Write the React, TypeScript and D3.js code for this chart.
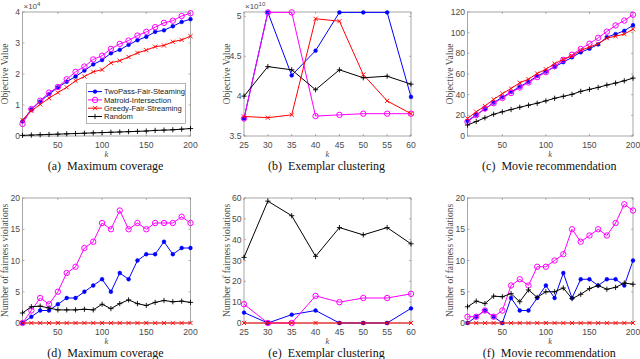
import React from "react";
import * as d3 from "d3";

const kLong = [10, 20, 30, 40, 50, 60, 70, 80, 90, 100, 110, 120, 130, 140, 150, 160, 170, 180, 190, 200];
const kShort = [25, 30, 35, 40, 45, 50, 55, 60];

const seriesNames = ["TwoPass-Fair-Steaming", "Matroid-Intersection", "Greedy-Fair-Streaming", "Random"];
const seriesColors = ["#0000ff", "#ff00ff", "#ff0000", "#000000"];
const seriesMarkers = ["dot", "circle", "x", "plus"];

// (a) Maximum coverage, objective (x1e4)
const aTwoPass = [0.47, 0.86, 1.11, 1.35, 1.57, 1.75, 1.92, 2.11, 2.31, 2.45, 2.67, 2.78, 2.94, 3.09, 3.2, 3.36, 3.41, 3.54, 3.68, 3.77];
const aMatroid = [0.39, 0.87, 1.14, 1.4, 1.58, 1.83, 2.07, 2.24, 2.47, 2.59, 2.81, 2.97, 3.08, 3.24, 3.36, 3.51, 3.65, 3.72, 3.87, 3.96];
const aGreedy = [0.52, 0.81, 1.02, 1.22, 1.4, 1.57, 1.78, 1.92, 2.07, 2.14, 2.36, 2.43, 2.55, 2.68, 2.77, 2.88, 2.92, 3.04, 3.1, 3.22];
const aRandom = [0.02, 0.03, 0.04, 0.05, 0.06, 0.07, 0.08, 0.09, 0.1, 0.11, 0.12, 0.13, 0.14, 0.15, 0.16, 0.18, 0.19, 0.2, 0.22, 0.24];

// (b) Exemplar clustering, objective (x1e10)
const bTwoPass = [3.72, 5.05, 4.26, 4.57, 5.05, 5.05, 5.05, 3.99];
const bMatroid = [3.72, 5.05, 5.05, 3.75, 3.765, 3.78, 3.78, 3.78];
const bGreedy = [3.745, 3.73, 3.765, 4.97, 4.94, 4.27, 3.94, 3.78];
const bRandom = [4.0, 4.37, 4.33, 4.08, 4.33, 4.23, 4.25, 4.15];

// (c) Movie recommendation, objective
const cTwoPass = [14.7, 20.5, 26, 32.3, 37.4, 42.6, 47.7, 52.5, 58, 62.4, 67, 71.4, 76.2, 81, 84.5, 88.6, 95.7, 98.6, 101.8, 107.2];
const cMatroid = [13.8, 20.2, 26.6, 31.7, 36.8, 41.6, 47, 51.8, 57, 61.8, 67.5, 73.6, 78.7, 84.2, 89.3, 95, 101, 107, 111.7, 117.4];
const cGreedy = [17, 23.4, 29, 35.5, 41, 46, 51.5, 55, 60.5, 64.6, 70, 74.2, 77.4, 82.9, 86, 89.3, 94.7, 96.6, 98.6, 103.4];
const cRandom = [10.6, 14, 17.6, 21, 23.4, 25.6, 27.8, 29.8, 31.7, 34, 36.5, 38.4, 40.3, 43.2, 45.1, 47, 49.3, 51.2, 53.4, 56];

// (d) Maximum coverage, violations
const dTwoPass = [0, 1, 2, 2, 3, 4, 4, 5, 6, 7, 5, 8, 7, 10, 11, 11, 13, 11, 12, 12];
const dMatroid = [0, 2, 4, 3, 5, 8, 9, 12, 13, 16, 15, 18, 15, 16, 15, 16, 16, 16, 17, 16];
const dGreedy = [0, 0, 0, 0, 0, 0, 0, 0, 0, 0, 0, 0, 0, 0, 0, 0, 0, 0, 0, 0];
const dRandom = [1.6, 2.6, 2.7, 2.4, 2.1, 2.1, 2.1, 2.2, 2.1, 3.0, 2.3, 3.1, 3.7, 3.1, 2.8, 3.3, 3.6, 3.4, 3.5, 3.3];

// (e) Exemplar clustering, violations
const eTwoPass = [5, 0, 4, 6, 0, 0, 0, 7];
const eMatroid = [9, 0, 0, 13, 10, 12, 12, 14];
const eGreedy = [0, 0, 0, 0, 0, 0, 0, 0];
const eRandom = [31.5, 58.5, 51.5, 32, 45.8, 42.3, 45.8, 38];

// (f) Movie recommendation, violations
const fTwoPass = [0, 1, 2, 1, 0, 4, 2, 2, 4, 6, 4, 8, 4, 7, 7, 6, 7, 7, 6, 10];
const fMatroid = [1, 1, 2, 1, 2, 6, 7, 6, 9, 9, 10, 11, 15, 13, 14, 15, 14, 16, 19, 18];
const fGreedy = [0, 0, 0, 0, 0, 0, 0, 0, 0, 0, 0, 0, 0, 0, 0, 0, 0, 0, 0, 0];
const fRandom = [2.6, 3.5, 3.1, 4.3, 4.2, 4.7, 3.4, 5.3, 4.1, 5.0, 5.0, 5.6, 3.9, 4.6, 5.5, 6.0, 5.4, 5.7, 6.4, 6.2];

const longTicks = [50, 100, 150, 200];
const shortTicks = [25, 30, 35, 40, 45, 50, 55, 60];

type Panel = {
  caption: string;
  ylabel: string;
  xs: number[];
  xDomain: [number, number];
  xTicks: number[];
  yDomain: [number, number];
  yTicks: number[];
  exp?: string;
  series: number[][];
  legend?: boolean;
  left: number;
  right: number;
  top: number;
  bottom: number;
};

const colLR: [number, number][] = [[22.5, 190.5], [244, 411], [467.5, 633]];
const rowTB: [number, number][] = [[12, 136], [198, 323]];

const panels: Panel[] = [
  { caption: "(a)\u00A0\u00A0Maximum coverage", ylabel: "Objective Value", xs: kLong, xDomain: [10, 200], xTicks: longTicks, yDomain: [0, 4], yTicks: [0, 1, 2, 3, 4], exp: "4", series: [aTwoPass, aMatroid, aGreedy, aRandom], legend: true, left: colLR[0][0], right: colLR[0][1], top: rowTB[0][0], bottom: rowTB[0][1] },
  { caption: "(b)\u00A0\u00A0Exemplar clustering", ylabel: "Objective Value", xs: kShort, xDomain: [25, 60], xTicks: shortTicks, yDomain: [3.5, 5.055], yTicks: [3.5, 4, 4.5, 5], exp: "10", series: [bTwoPass, bMatroid, bGreedy, bRandom], left: colLR[1][0], right: colLR[1][1], top: rowTB[0][0], bottom: rowTB[0][1] },
  { caption: "(c)\u00A0\u00A0Movie recommendation", ylabel: "Objective Value", xs: kLong, xDomain: [10, 200], xTicks: longTicks, yDomain: [0, 120], yTicks: [0, 20, 40, 60, 80, 100, 120], series: [cTwoPass, cMatroid, cGreedy, cRandom], left: colLR[2][0], right: colLR[2][1], top: rowTB[0][0], bottom: rowTB[0][1] },
  { caption: "(d)\u00A0\u00A0Maximum coverage", ylabel: "Number of fairness violations", xs: kLong, xDomain: [10, 200], xTicks: longTicks, yDomain: [0, 20], yTicks: [0, 5, 10, 15, 20], series: [dTwoPass, dMatroid, dGreedy, dRandom], left: colLR[0][0], right: colLR[0][1], top: rowTB[1][0], bottom: rowTB[1][1] },
  { caption: "(e)\u00A0\u00A0Exemplar clustering", ylabel: "Number of fairness violations", xs: kShort, xDomain: [25, 60], xTicks: shortTicks, yDomain: [0, 60], yTicks: [0, 10, 20, 30, 40, 50, 60], series: [eTwoPass, eMatroid, eGreedy, eRandom], left: colLR[1][0], right: colLR[1][1], top: rowTB[1][0], bottom: rowTB[1][1] },
  { caption: "(f)\u00A0\u00A0Movie recommendation", ylabel: "Number of fairness violations", xs: kLong, xDomain: [10, 200], xTicks: longTicks, yDomain: [0, 20], yTicks: [0, 5, 10, 15, 20], series: [fTwoPass, fMatroid, fGreedy, fRandom], left: colLR[2][0], right: colLR[2][1], top: rowTB[1][0], bottom: rowTB[1][1] },
];

const TICK_FONT = "'Liberation Sans', Arial, sans-serif";
const SERIF = "'Liberation Serif', 'Times New Roman', serif";
const AX = "#808080";
const TXT = "#4a4a4a";

function Marker({ kind, x, y, color }: { kind: string; x: number; y: number; color: string }) {
  if (kind === "dot") return <circle cx={x} cy={y} r={1.9} fill={color} stroke={color} strokeWidth={0.5} />;
  if (kind === "circle") return <circle cx={x} cy={y} r={2.7} fill="none" stroke={color} strokeWidth={1} />;
  if (kind === "x") {
    const s = 2.1;
    return <path d={`M${x - s},${y - s}L${x + s},${y + s}M${x - s},${y + s}L${x + s},${y - s}`} stroke={color} strokeWidth={0.9} />;
  }
  const s = 2.6;
  return <path d={`M${x - s},${y}L${x + s},${y}M${x},${y - s}L${x},${y + s}`} stroke={color} strokeWidth={0.9} />;
}

function PanelView({ p }: { p: Panel }) {
  const x = d3.scaleLinear().domain(p.xDomain).range([p.left, p.right]);
  const y = d3.scaleLinear().domain(p.yDomain).range([p.bottom, p.top]);
  const line = d3.line<number>().x((_, i) => x(p.xs[i])).y((d) => y(d));
  const cx = (p.left + p.right) / 2;
  const cy = (p.top + p.bottom) / 2;
  const tl = 2;
  return (
    <g>
      <rect x={p.left} y={p.top} width={p.right - p.left} height={p.bottom - p.top} fill="white" stroke={AX} strokeWidth={0.7} />
      {p.xTicks.map((t) => (
        <g key={"xt" + t}>
          <line x1={x(t)} x2={x(t)} y1={p.bottom} y2={p.bottom - tl} stroke={AX} strokeWidth={0.6} />
          <line x1={x(t)} x2={x(t)} y1={p.top} y2={p.top + tl} stroke={AX} strokeWidth={0.6} />
          <text x={x(t)} y={p.bottom + 11.5} textAnchor="middle" fontFamily={TICK_FONT} fontSize={8.6} fill={TXT}>{t}</text>
        </g>
      ))}
      {p.yTicks.map((t) => (
        <g key={"yt" + t}>
          <line x1={p.left} x2={p.left + tl} y1={y(t)} y2={y(t)} stroke={AX} strokeWidth={0.6} />
          <line x1={p.right} x2={p.right - tl} y1={y(t)} y2={y(t)} stroke={AX} strokeWidth={0.6} />
          <text x={p.left - 2.5} y={y(t) + 3.1} textAnchor="end" fontFamily={TICK_FONT} fontSize={8.6} fill={TXT}>{String(t)}</text>
        </g>
      ))}
      {p.exp && (
        <text x={p.left + 1} y={p.top - 3.5} fontFamily={TICK_FONT} fontSize={8} fill={TXT}>
          ×10<tspan dy={-3} fontSize={6}>{p.exp}</tspan>
        </text>
      )}
      <text x={cx} y={p.bottom + 21.3} textAnchor="middle" fontFamily={SERIF} fontStyle="italic" fontSize={8.5} fill={TXT}>k</text>
      <text transform={`translate(${p.left - 14.5},${cy}) rotate(-90)`} textAnchor="middle" fontFamily={SERIF} fontSize={9.5} fill={TXT}>{p.ylabel}</text>
      <text x={cx - 1} y={p.bottom + 33.8} textAnchor="middle" fontFamily={SERIF} fontSize={12} fill="#111">{p.caption}</text>
      {p.series.map((s, si) => (
        <g key={"s" + si}>
          <path d={line(s) || ""} fill="none" stroke={seriesColors[si]} strokeWidth={1} />
          {s.map((v, i) => (
            <Marker key={i} kind={seriesMarkers[si]} x={x(p.xs[i])} y={y(v)} color={seriesColors[si]} />
          ))}
        </g>
      ))}
      {p.legend && (
        <g>
          <rect x={86.5} y={83.5} width={99} height={40} fill="white" stroke={AX} strokeWidth={0.6} />
          {seriesNames.map((n, i) => {
            const ly = 91.6 + i * 8.3;
            return (
              <g key={n}>
                <line x1={88} x2={102} y1={ly} y2={ly} stroke={seriesColors[i]} strokeWidth={1} />
                <Marker kind={seriesMarkers[i]} x={95} y={ly} color={seriesColors[i]} />
                <text x={104} y={ly + 2.7} fontFamily={TICK_FONT} fontSize={7.6} fill="#222">{n}</text>
              </g>
            );
          })}
        </g>
      )}
    </g>
  );
}

export default function App() {
  return (
    <svg width={640} height={359} style={{ position: "absolute", left: 0, top: 0, background: "white" }}>
      <rect x={0} y={0} width={640} height={359} fill="white" />
      {panels.map((p, i) => (
        <PanelView key={i} p={p} />
      ))}
    </svg>
  );
}
